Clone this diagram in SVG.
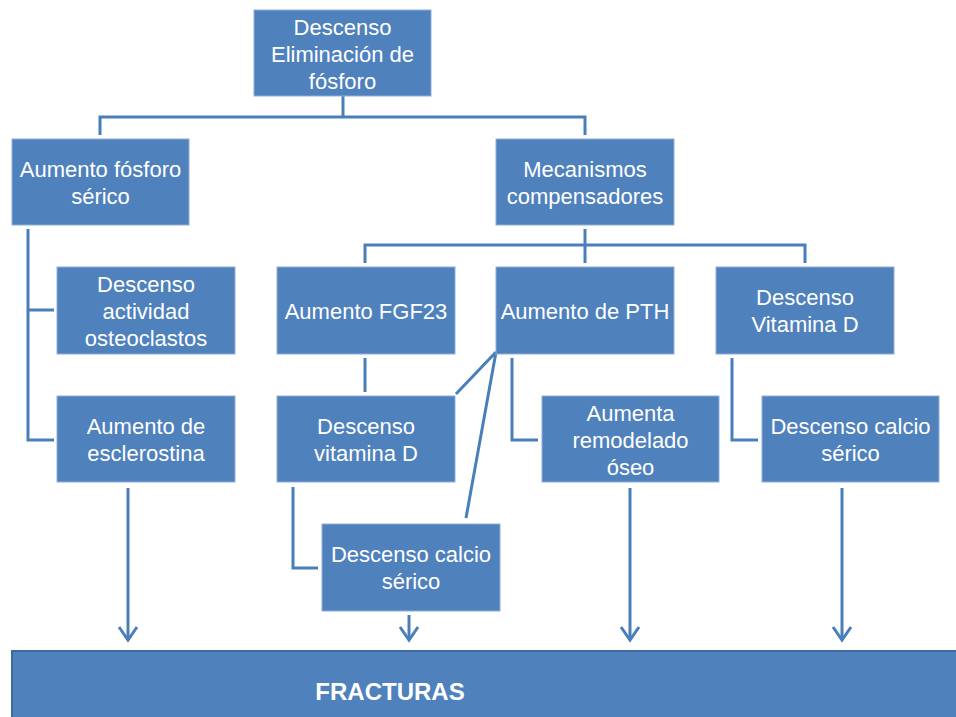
<svg xmlns="http://www.w3.org/2000/svg" width="956" height="717" viewBox="0 0 956 717">
<defs>
<style>
.box{fill:#4F81BD;stroke:#8FAEDA;stroke-width:1}
.t{font-family:"Liberation Sans",Arial,sans-serif;font-size:22px;fill:#ffffff;text-anchor:middle}
.c{fill:none;stroke:#4A7EBB;stroke-width:3;stroke-linejoin:miter}
.a{fill:none;stroke:#4A7EBB;stroke-width:3}
</style>
<marker id="arr" markerUnits="userSpaceOnUse" markerWidth="20" markerHeight="24" refX="16" refY="12" orient="auto" viewBox="0 0 20 24">
<path d="M3,3 L16,12 L3,21" fill="none" stroke="#4A7EBB" stroke-width="3"/>
</marker>
</defs>
<rect width="956" height="717" fill="#ffffff"/>
<g id="connectors">
<path class="c" d="M343,96 V117 M100,135 V117 H585 V135"/>
<path class="c" d="M28,229 V440 H54 M28,310 H54"/>
<path class="c" d="M585,229 V245 M365,263 V245 H805 V263 M585,245 V263"/>
<path class="c" d="M365,358 V392"/>
<path class="c" d="M496,352 L456,394 M496,352 L466,518"/>
<path class="c" d="M512,358 V440 H538"/>
<path class="c" d="M732,358 V440 H758"/>
<path class="c" d="M293,487 V568 H318"/>
<path class="a" d="M128,488 V640" marker-end="url(#arr)"/>
<path class="a" d="M409,615 V640" marker-end="url(#arr)"/>
<path class="a" d="M630,488 V640" marker-end="url(#arr)"/>
<path class="a" d="M842,488 V640" marker-end="url(#arr)"/>
</g>
<g id="n-top"><rect class="box" x="254" y="10" width="177" height="86"/>
<text class="t" x="342.5" y="35">Descenso</text><text class="t" x="342.5" y="62">Eliminación de</text><text class="t" x="342.5" y="89">fósforo</text></g>
<g id="n-fosforo"><rect class="box" x="12" y="139" width="177" height="86"/>
<text class="t" x="100.5" y="177">Aumento fósforo</text><text class="t" x="100.5" y="204">sérico</text></g>
<g id="n-mecanismos"><rect class="box" x="496" y="139" width="178" height="86"/>
<text class="t" x="585" y="177">Mecanismos</text><text class="t" x="585" y="204">compensadores</text></g>
<g id="n-osteoclastos"><rect class="box" x="57" y="267" width="178" height="87"/>
<text class="t" x="146" y="292">Descenso</text><text class="t" x="146" y="319">actividad</text><text class="t" x="146" y="346">osteoclastos</text></g>
<g id="n-fgf23"><rect class="box" x="277" y="267" width="178" height="87"/>
<text class="t" x="366" y="319">Aumento FGF23</text></g>
<g id="n-pth"><rect class="box" x="496" y="267" width="178" height="87"/>
<text class="t" x="585" y="319">Aumento de PTH</text></g>
<g id="n-vitd-right"><rect class="box" x="716" y="267" width="178" height="87"/>
<text class="t" x="805" y="305">Descenso</text><text class="t" x="805" y="332">Vitamina D</text></g>
<g id="n-esclerostina"><rect class="box" x="57" y="396" width="178" height="86"/>
<text class="t" x="146" y="434">Aumento de</text><text class="t" x="146" y="461">esclerostina</text></g>
<g id="n-vitd-left"><rect class="box" x="277" y="396" width="178" height="86"/>
<text class="t" x="366" y="434">Descenso</text><text class="t" x="366" y="461">vitamina D</text></g>
<g id="n-remodelado"><rect class="box" x="542" y="396" width="177" height="86"/>
<text class="t" x="630.5" y="421">Aumenta</text><text class="t" x="630.5" y="448">remodelado</text><text class="t" x="630.5" y="475">óseo</text></g>
<g id="n-calcio-right"><rect class="box" x="762" y="396" width="177" height="86"/>
<text class="t" x="850.5" y="434">Descenso calcio</text><text class="t" x="850.5" y="461">sérico</text></g>
<g id="n-calcio-mid"><rect class="box" x="322" y="524" width="178" height="87"/>
<text class="t" x="411" y="562">Descenso calcio</text><text class="t" x="411" y="589">sérico</text></g>
<g id="n-fracturas"><rect x="12" y="651" width="960" height="80" fill="#4F81BD" stroke="#3C6AA0" stroke-width="2"/>
<text x="390" y="700" font-family="'Liberation Sans',Arial,sans-serif" font-size="24" font-weight="bold" fill="#ffffff" text-anchor="middle">FRACTURAS</text></g>
</svg>
